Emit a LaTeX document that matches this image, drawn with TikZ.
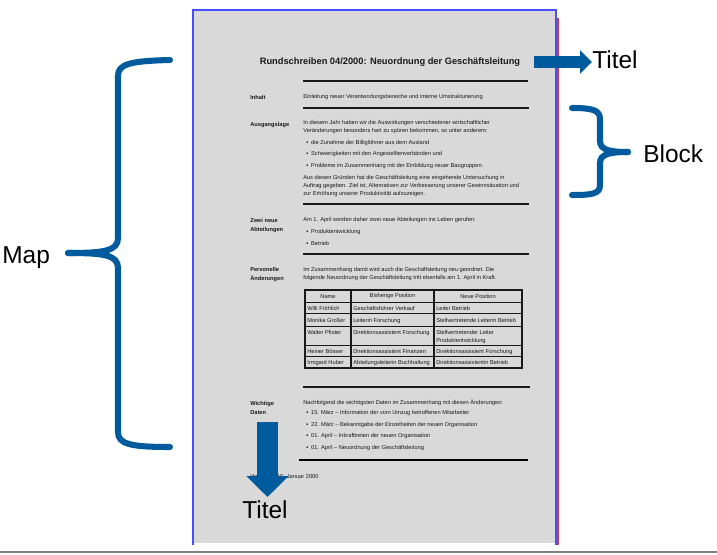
\documentclass[tikz,border=0pt]{standalone}
\usepackage{fontspec}
\setmainfont{Liberation Sans}
\usetikzlibrary{arrows.meta}

\definecolor{signal}{RGB}{0,90,158}
\definecolor{pagegray}{RGB}{217,217,217}
\definecolor{pageblue}{RGB}{70,80,250}
\definecolor{pagered}{RGB}{205,60,60}
\definecolor{ink}{RGB}{25,25,25}

\begin{document}
\begin{tikzpicture}[x=0.025cm, y=-0.025cm,
    doc/.style={font=\fontsize{4.05}{5.7}\selectfont, inner sep=0, anchor=west, align=left, text=ink},
    lbl/.style={doc, font=\fontsize{4.05}{6.4}\selectfont\bfseries},
    cell/.style={doc, anchor=north west},
    big/.style={font=\fontsize{17.4}{20}\selectfont, inner sep=0, anchor=base west},
    rule/.style={ink, line width=0.8pt},
    brace/.style={signal, line width=4.3pt, line cap=round},
    bigarrow/.style={signal, line width=#1}]
        \useasboundingbox (0,0) rectangle (717,554);

        % the page
        \fill [pagegray] (193,10) rectangle (556,543);
        \draw [pageblue, line width=1.2pt] (193,545) -- (193,10) -- (556,10) -- (556,545);
        \draw [pagered, line width=1.2pt] (558,18) -- (558,545);
        \draw [black!50, line width=1.4pt] (0,552) -- (717,552);

        \node [inner sep=0, text=ink, font=\fontsize{6.6}{7}\selectfont\bfseries] (title) at (390,62)
            {Rundschreiben 04/2000: Neuordnung der Geschäftsleitung};
        \draw [rule] (303,81) -- (528,81);

        \node [lbl] (inhaltL) at (250,97) {Inhalt};
        \node [doc] (inhaltT) at (303,97) {Einleitung neuer Verantwortungsbereiche und interne Umstrukturierung};
        \draw [rule] (303,108) -- (529,108);

        \node [lbl] (lageL) at (250,125) {Ausgangslage};
        \node [doc] (lageT1) at (303,127.5) {In diesem Jahr haben wir die Auswirkungen verschiedener wirtschaftlicher\\Veränderungen besonders hart zu spüren bekommen, so unter anderem:};
        \node [doc] (lageB1) at (306,143) {▪\hspace{2pt}die Zunahme der Billiglöhner aus dem Ausland};
        \node [doc] (lageB2) at (306,154.5) {▪\hspace{2pt}Schwierigkeiten mit den Angestelltenverbänden und};
        \node [doc] (lageB3) at (306,166) {▪\hspace{2pt}Probleme im Zusammenhang mit der Einbildung neuer Baugruppen.};
        \node [doc] (lageT2) at (303,186) {Aus diesen Gründen hat die Geschäftsleitung eine eingehende Untersuchung in\\Auftrag gegeben. Ziel ist, Alternativen zur Verbesserung unserer Gewinnsituation und\\zur Erhöhung unserer Produktivität aufzuzeigen.};
        \draw [ink, line width=1.2pt] (303,204) -- (529,204);

        \node [lbl] (abtL) at (250,225.5) {Zwei neue\\Abteilungen};
        \node [doc] (abtT) at (303,220) {Am 1. April werden daher zwei neue Abteilungen ins Leben gerufen:};
        \node [doc] (abtB1) at (306,232) {▪\hspace{2pt}Produktentwicklung};
        \node [doc] (abtB2) at (306,243) {▪\hspace{2pt}Betrieb};
        \draw [rule] (303,254) -- (529,254);

        \node [lbl] (persL) at (250,274.5) {Personelle\\Änderungen};
        \node [doc] (persT) at (303,274) {Im Zusammenhang damit wird auch die Geschäftsleitung neu geordnet. Die\\folgende Neuordnung der Geschäftsleitung tritt ebenfalls am 1. April in Kraft.};

        % table
        \draw [ink, line width=1pt] (305,290) rectangle (522,368);
        \draw [ink, line width=1.4pt] (351,290) -- (351,368) (434,290) -- (434,368);
        \foreach \y in {302,313,326,345,356}
            \draw [ink, line width=0.7pt] (305,\y) -- (522,\y);
        \node [doc, anchor=center] (headA) at (328,296.5) {Name};
        \node [doc, anchor=center] (headB) at (392.5,296.5) {Bisherige Position};
        \node [doc, anchor=center] (headC) at (478,296.5) {Neue Position};
        \foreach \y/\a/\b/\c [count=\i] in {
            306/Willi Fröhlich/Geschäftsführer Verkauf/Leiter Betrieb,
            318/Monika Großer/Leiterin Forschung/Stellvertretende Leiterin Betrieb,
            330/Walter Pfister/Direktionsassistent Forschung/{Stellvertretender Leiter\\Produktentwicklung},
            349/Heiner Bösser/Direktionsassistent Finanzen/Direktionsassistent Forschung,
            360/Irmgard Huber/Abteilungsleiterin Buchhaltung/Direktionsassistentin Betrieb} {
            \node [cell] (cellA\i) at (307,\y) {\a};
            \node [cell] (cellB\i) at (353,\y) {\b};
            \node [cell] (cellC\i) at (436,\y) {\c};
        }
        \draw [rule] (303,387) -- (530,387);

        \node [lbl] (datenL) at (250,407.5) {Wichtige\\Daten};
        \node [doc] (datenT) at (303,403) {Nachfolgend die wichtigsten Daten im Zusammenhang mit diesen Änderungen:};
        \node [doc] (datenB1) at (306,413.5) {▪\hspace{2pt}15. März – Information der vom Umzug betroffenen Mitarbeiter};
        \node [doc] (datenB2) at (306,425) {▪\hspace{2pt}22. März – Bekanntgabe der Einzelheiten der neuen Organisation};
        \node [doc] (datenB3) at (306,436.5) {▪\hspace{2pt}01. April – Inkrafttreten der neuen Organisation};
        \node [doc] (datenB4) at (306,448) {▪\hspace{2pt}01. April – Neuordnung der Geschäftsleitung};
        \draw [black, line width=1.6pt] (299,460) -- (528,460);
        \node [doc] (datum) at (250,477) {Hamburg, 10. Januar 2000};

        % labels round the page
        \node [big] (titelR) at (592,68) {Titel};
        \node [big] (titelB) at (242,518) {Titel};
        \node [big] (block) at (643,162) {Block};
        \node [big] (map) at (2,263) {Map};

        \draw [bigarrow=8.5pt, -{Triangle[length=8.5pt, width=16.4pt]}, shorten <=10pt]
            (title.east) -- (titelR.west |- title.east);
        \coordinate (dtop) at (267.5,422);
        \draw [bigarrow=14.9pt, -{Triangle[length=14.9pt, width=29.2pt]}]
            (dtop) -- (267.5,497);

        % braces
        \draw [brace] (68,253) .. controls (104,253) and (118,251) .. (118,238) -- (118,76)
            .. controls (118,64) and (130,61) .. (170,60);
        \draw [brace] (68,253) .. controls (104,253) and (118,255) .. (118,268) -- (118,432)
            .. controls (118,444) and (130,447) .. (170,447);
        \draw [brace] (628,152) .. controls (610,152) and (600,150) .. (600,141) -- (600,119)
            .. controls (600,110) and (592,108) .. (572,108);
        \draw [brace] (628,152) .. controls (610,152) and (600,154) .. (600,163) -- (600,185)
            .. controls (600,194) and (592,195) .. (572,195);
\end{tikzpicture}
\end{document}
